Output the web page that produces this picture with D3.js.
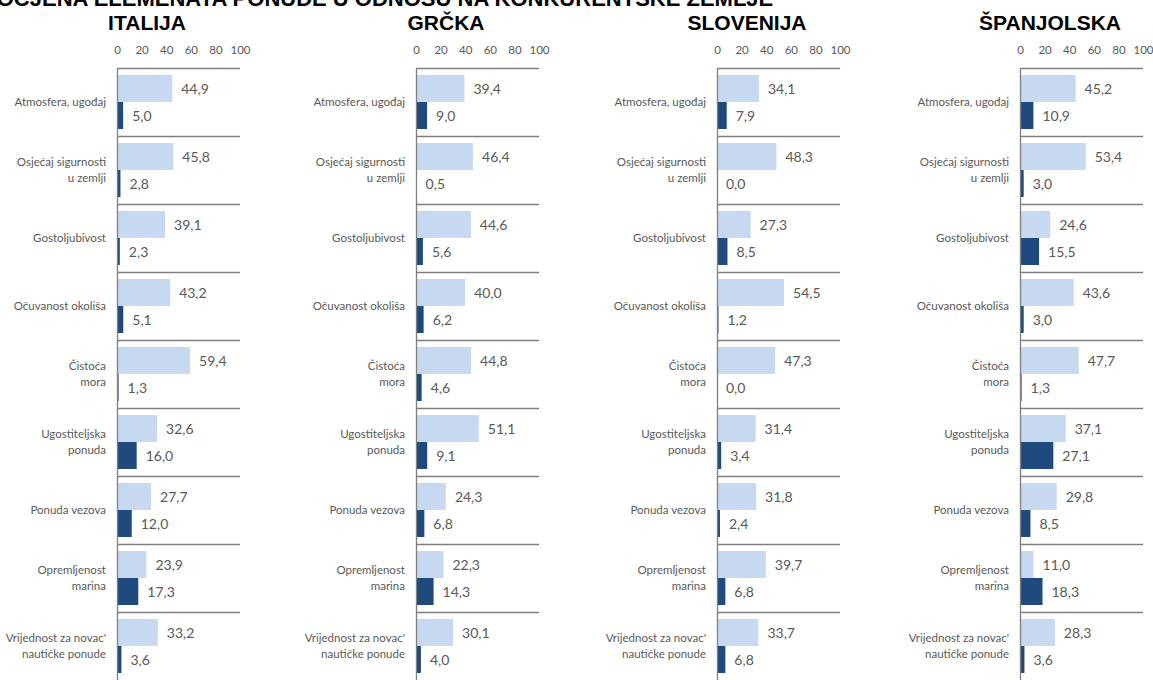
<!DOCTYPE html>
<html>
<head>
<meta charset="utf-8">
<script src="https://cdn.jsdelivr.net/npm/d3@7"></script>
<style>
  html, body { margin: 0; padding: 0; background: #fff; }
  svg { display: block; }
</style>
</head>
<body>
<script>
const mainTitle = "OCJENA ELEMENATA PONUDE U ODNOSU NA KONKURENTSKE ZEMLJE";
const countries = ["ITALIJA", "GRČKA", "SLOVENIJA", "ŠPANJOLSKA"];
const categories = [
  ["Atmosfera, ugođaj"],
  ["Osjećaj sigurnosti", "u zemlji"],
  ["Gostoljubivost"],
  ["Očuvanost okoliša"],
  ["Čistoća", "mora"],
  ["Ugostiteljska", "ponuda"],
  ["Ponuda vezova"],
  ["Opremljenost", "marina"],
  ["Vrijednost za novac'", "nautičke ponude"]
];
const ticks = [0, 20, 40, 60, 80, 100];

const italijaLight = [44.9, 45.8, 39.1, 43.2, 59.4, 32.6, 27.7, 23.9, 33.2];
const italijaDark  = [5.0, 2.8, 2.3, 5.1, 1.3, 16.0, 12.0, 17.3, 3.6];
const grckaLight   = [39.4, 46.4, 44.6, 40.0, 44.8, 51.1, 24.3, 22.3, 30.1];
const grckaDark    = [9.0, 0.5, 5.6, 6.2, 4.6, 9.1, 6.8, 14.3, 4.0];
const slovenijaLight = [34.1, 48.3, 27.3, 54.5, 47.3, 31.4, 31.8, 39.7, 33.7];
const slovenijaDark  = [7.9, 0.0, 8.5, 1.2, 0.0, 3.4, 2.4, 6.8, 6.8];
const spanjolskaLight = [45.2, 53.4, 24.6, 43.6, 47.7, 37.1, 29.8, 11.0, 28.3];
const spanjolskaDark  = [10.9, 3.0, 15.5, 3.0, 1.3, 27.1, 8.5, 18.3, 3.6];

const lightSeries = [italijaLight, grckaLight, slovenijaLight, spanjolskaLight];
const darkSeries = [italijaDark, grckaDark, slovenijaDark, spanjolskaDark];

const W = 1153, H = 680;
const LIGHT = "#c6d9f1", DARK = "#1f4a7e", GRAY = "#595959", LINE = "#7f7f7f";
const axisXs = [117, 416, 717, 1020];
const plotW = 123;

const svg = d3.select("body").append("svg").attr("width", W).attr("height", H);

svg.append("text")
  .attr("x", 385).attr("y", 6)
  .attr("text-anchor", "middle")
  .attr("font-family", "Liberation Sans, Arial, sans-serif")
  .attr("font-weight", "bold").attr("font-size", 22)
  .attr("fill", "#000")
  .text(mainTitle);

const catKeys = categories.map((c, i) => i);
const y = d3.scaleBand().domain(catKeys).range([68, 680]).padding(0);
const sub = d3.scaleBand().domain(["light", "dark"]).range([0, y.bandwidth()]).paddingInner(0).paddingOuter(0.26);

countries.forEach((country, ci) => {
  const ax = axisXs[ci];
  const x = d3.scaleLinear().domain([0, 100]).range([ax, ax + plotW]);
  const g = svg.append("g");

  g.append("text")
    .attr("x", ax + 30).attr("y", 30)
    .attr("text-anchor", "middle")
    .attr("font-family", "Liberation Sans, Arial, sans-serif")
    .attr("font-weight", "bold").attr("font-size", 21)
    .attr("fill", "#000")
    .text(country);

  const axisG = g.append("g").attr("transform", "translate(0,54)")
    .call(d3.axisTop(x).tickValues(ticks).tickSize(0).tickPadding(0).tickFormat(d3.format("d")));
  axisG.select(".domain").remove();
  axisG.selectAll("text")
    .attr("font-family", "Lato, 'Open Sans', sans-serif")
    .attr("font-size", 11.5).attr("fill", GRAY);

  g.selectAll("line.sep").data(catKeys).enter().append("line")
    .attr("class", "sep")
    .attr("x1", ax).attr("x2", x(100))
    .attr("y1", d => y(d) + 0.5).attr("y2", d => y(d) + 0.5)
    .attr("stroke", LINE).attr("stroke-width", 1.3);

  const rows = catKeys.map(i => ({ i, light: lightSeries[ci][i], dark: darkSeries[ci][i] }));

  const row = g.selectAll("g.row").data(rows).enter().append("g").attr("class", "row")
    .attr("transform", d => `translate(0,${y(d.i)})`);

  ["light", "dark"].forEach(key => {
    row.append("rect")
      .attr("x", ax)
      .attr("y", sub(key))
      .attr("width", d => x(d[key]) - ax)
      .attr("height", sub.bandwidth())
      .attr("fill", key === "light" ? LIGHT : DARK);
    row.append("text")
      .attr("x", d => x(d[key]) + 9)
      .attr("y", sub(key) + sub.bandwidth() / 2)
      .attr("dy", "0.36em")
      .attr("font-family", "Lato, 'Open Sans', sans-serif")
      .attr("font-size", 14).attr("fill", GRAY)
      .text(d => d3.format(".1f")(d[key]).replace(".", ","));
  });

  row.each(function(d) {
    const lines = categories[d.i];
    const t = d3.select(this).append("text")
      .attr("text-anchor", "end")
      .attr("font-family", "Lato, 'Open Sans', sans-serif")
      .attr("font-size", 11.5).attr("fill", GRAY);
    const lh = 16;
    const y0 = y.bandwidth() / 2 - (lines.length - 1) * lh / 2;
    lines.forEach((ln, k) => {
      t.append("tspan").attr("x", ax - 11).attr("y", y0 + k * lh).attr("dy", "0.35em").text(ln);
    });
  });

  g.append("line")
    .attr("x1", ax + 0.5).attr("x2", ax + 0.5)
    .attr("y1", 68).attr("y2", 680)
    .attr("stroke", LINE).attr("stroke-width", 1.3);
});
</script>
</body>
</html>
